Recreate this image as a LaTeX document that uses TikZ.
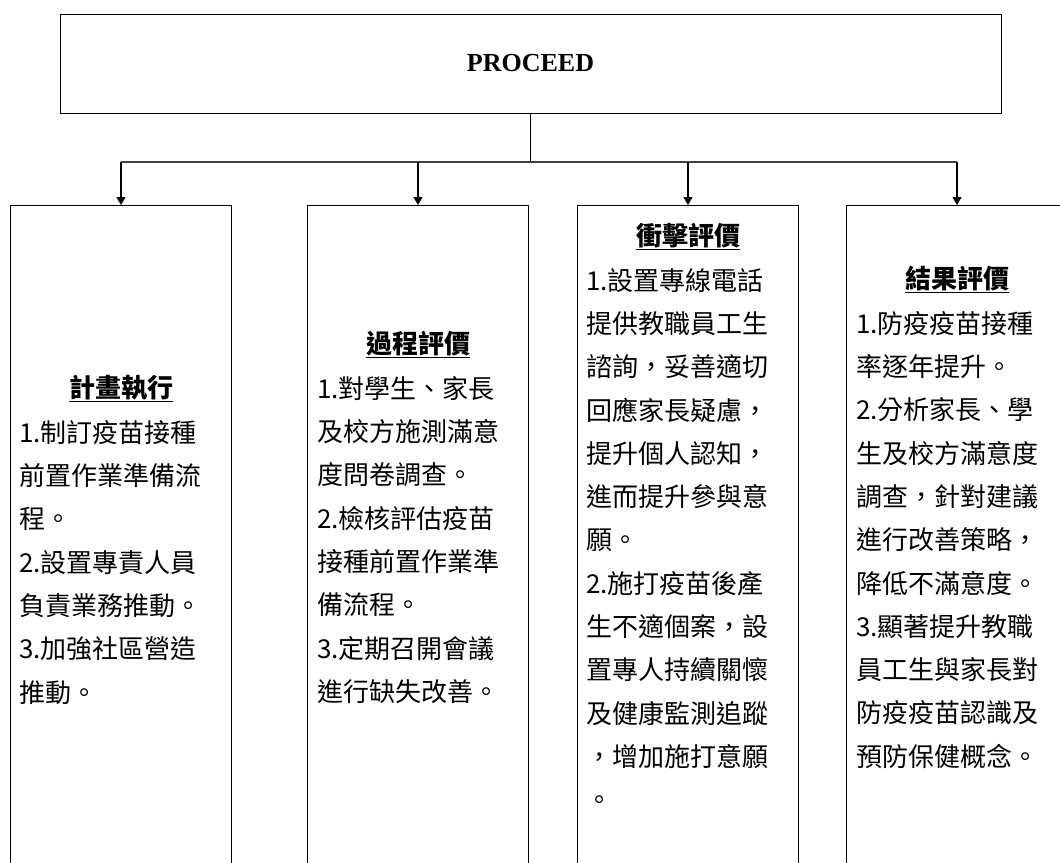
\documentclass[tikz,border=0pt]{standalone}
\usepackage{fontspec}
\setmainfont{Liberation Serif}
\newfontfamily\cjk{Noto Sans CJK TC}
\usetikzlibrary{arrows.meta, positioning}
\tikzset{
  headbox/.style={rectangle, draw, line width=1pt, minimum width=941pt, minimum height=99pt,
                  font=\bfseries\fontsize{26}{30}\selectfont},
  % columns run past the bottom of the page
  colbox/.style={rectangle, draw, line width=1pt, minimum width=221pt, minimum height=720pt,
                 anchor=north, inner sep=0pt},
  ttl/.style={font=\cjk\bfseries\fontsize{26}{30}\selectfont, inner sep=0pt, anchor=base},
  txt/.style={font=\cjk\fontsize{26}{43.3}\selectfont, align=left, inner sep=0pt, anchor=north west},
  ar/.style={-{Triangle[length=8pt,width=9pt]}, line width=1.2pt},
  br/.style={line width=1.8pt, draw=black!75}
}
\begin{document}
\begin{tikzpicture}[x=1pt, y=-1pt]
  \clip (0,0) rectangle (1060,862);
  \fill[white] (0,0) rectangle (1060,862);

  \node[headbox] (proceed) at (530.5,63.5) {PROCEED};

  \node[colbox] (plan)    at (121,205) {};
  \node[colbox] (process) at (418,205) {};
  \node[colbox] (impact)  at (688,205) {};
  \node[colbox] (outcome) at (957,205) {};

  \coordinate (fork) at (proceed.south |- 0,162);
  \draw[line width=1.2pt] (proceed.south) -- (fork);
  \draw[br] (plan.north |- fork) -- (outcome.north |- fork);
  \foreach \c in {plan, process, impact, outcome}
    \draw[ar] (\c.north |- fork) -- (\c.north);

  \node[ttl] (plan-t)    at (121,397) {\underline{計畫執行}};
  \node[ttl] (process-t) at (418,353) {\underline{過程評價}};
  \node[ttl] (impact-t)  at (688,245) {\underline{衝擊評價}};
  \node[ttl] (outcome-t) at (957,288) {\underline{結果評價}};

  \node[txt] (plan-b) at (19,420) {1.制訂疫苗接種\\前置作業準備流\\程。\\2.設置專責人員\\負責業務推動。\\3.加強社區營造\\推動。};
  \node[txt] (process-b) at (317,376) {1.對學生、家長\\及校方施測滿意\\度問卷調查。\\2.檢核評估疫苗\\接種前置作業準\\備流程。\\3.定期召開會議\\進行缺失改善。};
  \node[txt] (impact-b) at (586,268) {1.設置專線電話\\提供教職員工生\\諮詢，妥善適切\\回應家長疑慮，\\提升個人認知，\\進而提升參與意\\願。\\2.施打疫苗後產\\生不適個案，設\\置專人持續關懷\\及健康監測追蹤\\，增加施打意願\\。};
  \node[txt] (outcome-b) at (856,311) {1.防疫疫苗接種\\率逐年提升。\\2.分析家長、學\\生及校方滿意度\\調查，針對建議\\進行改善策略，\\降低不滿意度。\\3.顯著提升教職\\員工生與家長對\\防疫疫苗認識及\\預防保健概念。};
\end{tikzpicture}
\end{document}
